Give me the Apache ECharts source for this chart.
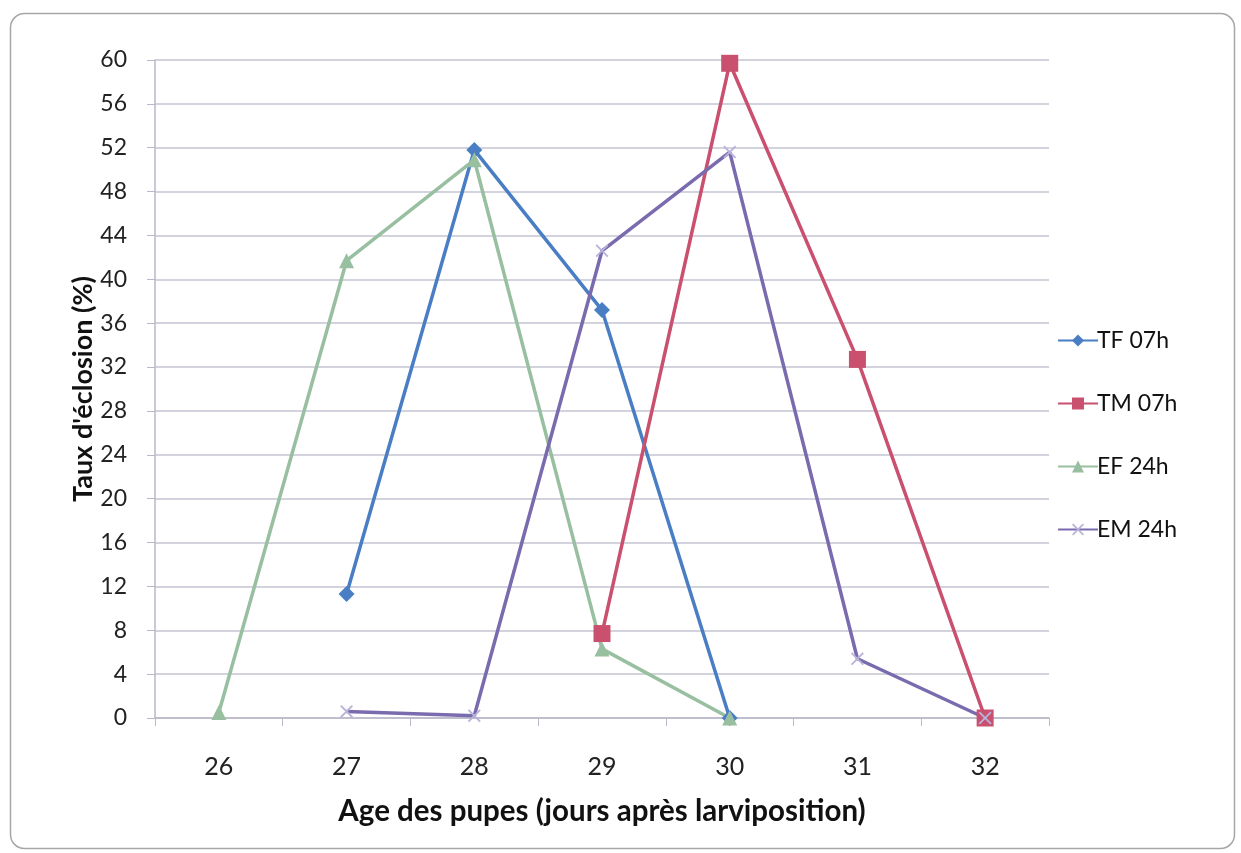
<!DOCTYPE html>
<html><head><meta charset="utf-8">
<script src="https://cdn.jsdelivr.net/npm/echarts@6/dist/echarts.min.js"></script>
<style>html,body{margin:0;padding:0;background:#fff}#c{width:1241px;height:853px}</style>
</head><body><div id="c"></div>
<script>
var categories = ['26','27','28','29','30','31','32'];
var yTicks = [0,4,8,12,16,20,24,28,32,36,40,44,48,52,56,60];
var seriesNames = ['TF 07h','TM 07h','EF 24h','EM 24h'];
var tf07 = [null, 11.3, 51.8, 37.2, 0, null, null];
var tm07 = [null, null, null, 7.7, 59.7, 32.7, 0];
var ef24 = [0.5, 41.7, 50.9, 6.3, 0, null, null];
var em24 = [null, 0.6, 0.2, 42.6, 51.6, 5.4, 0];

var colors = ['#4A7EC4', '#C9506E', '#98BFA0', '#7A6BAE'];
var FONT = 'Lato, "Open Sans", sans-serif';
var crossPath = 'path://M0,1L1,0L5,4L9,0L10,1L6,5L10,9L9,10L5,6L1,10L0,9L4,5Z';

var chart = echarts.init(document.getElementById('c'));
function mk(name, data, color, symbol, size, extra) {
  return Object.assign({
    name: name, type: 'line', data: data, connectNulls: false,
    symbol: symbol, symbolSize: size, showAllSymbol: true,
    lineStyle: { color: color, width: 3.5 },
    itemStyle: { color: color },
    emphasis: { disabled: true }
  }, extra || {});
}
chart.setOption({
  animation: false,
  textStyle: { fontFamily: FONT },
  graphic: [{
    type: 'rect', left: 8, top: 11,
    shape: { width: 1224, height: 835, r: 14 },
    style: { fill: 'none', stroke: '#A6A6A6', lineWidth: 1.5 }, z: -1
  }],
  grid: { left: 155, right: 192, top: 60, bottom: 135 },
  legend: {
    orient: 'vertical', left: 1052, top: 324, itemGap: 40,
    itemWidth: 40, itemHeight: 15,
    textStyle: { fontSize: 23, color: '#111', fontFamily: FONT, padding: [0,0,0,-6] },
    data: seriesNames
  },
  xAxis: {
    type: 'category', data: categories, boundaryGap: true,
    name: 'Age des pupes (jours après larviposition)', nameLocation: 'middle', nameGap: 78,
    nameMoveOverlap: false,
    nameTextStyle: { fontSize: 29.5, fontWeight: 'bold', color: '#111', fontFamily: FONT },
    axisLine: { lineStyle: { color: '#B8B8C8', width: 1.5 } },
    axisTick: { show: true, length: 8, lineStyle: { color: '#B8B8C8' } },
    axisLabel: { fontSize: 25, color: '#222', margin: 36 },
    splitLine: { show: false }
  },
  yAxis: {
    type: 'value', min: yTicks[0], max: yTicks[yTicks.length-1], interval: 4,
    name: "Taux d'éclosion (%)", nameLocation: 'middle', nameGap: 58,
    nameMoveOverlap: false,
    nameTextStyle: { fontSize: 27, fontWeight: 'bold', color: '#111', fontFamily: FONT },
    axisLine: { show: true, lineStyle: { color: '#B8B8C8', width: 1.5 } },
    axisTick: { show: true, length: 8, lineStyle: { color: '#B8B8C8' } },
    axisLabel: { fontSize: 23, color: '#222', margin: 28 },
    splitLine: { show: true, lineStyle: { color: '#C4C4D2', width: 1.5 } }
  },
  series: [
    mk(seriesNames[0], tf07, colors[0], 'diamond', 16),
    mk(seriesNames[1], tm07, colors[1], 'rect', 17),
    mk(seriesNames[2], ef24, colors[2], 'triangle', 15),
    mk(seriesNames[3], em24, colors[3], crossPath, 13, { itemStyle: { color: '#B9B2DA' } })
  ]
});
</script></body></html>
